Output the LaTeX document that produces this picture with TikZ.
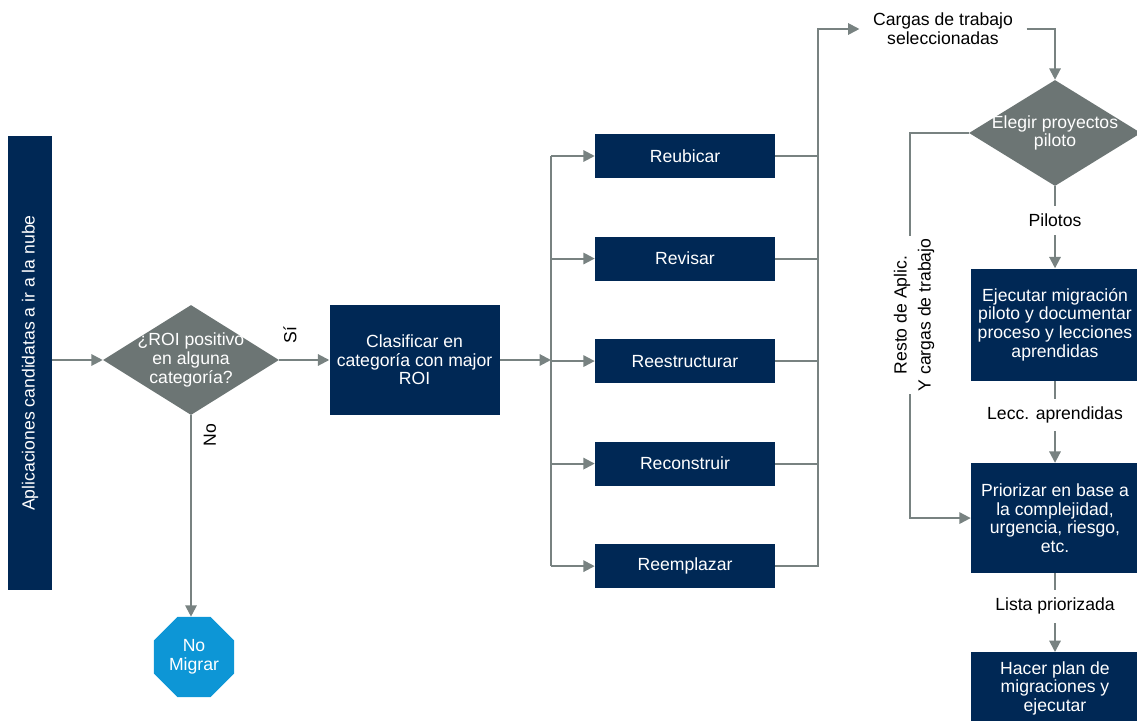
\documentclass[tikz,border=0pt]{standalone}
\usepackage{fontspec}
\setmainfont{Liberation Sans}
\usetikzlibrary{shapes.geometric,arrows.meta,positioning}
\definecolor{navy}{HTML}{002855}
\definecolor{slate}{HTML}{6C7574}
\definecolor{wire}{HTML}{788281}
\definecolor{stopblue}{HTML}{0D96D6}
\tikzset{every node/.style={font=\fontsize{13.2}{14}\selectfont,align=center},
         task node/.style={rectangle,fill=navy,text=white,inner sep=1pt},
         cat node/.style={task node,minimum width=135pt,minimum height=33pt},
         side node/.style={task node,minimum width=126pt},
         decision node/.style={diamond,fill=slate,text=white,inner sep=-12pt},
         stop node/.style={regular polygon,regular polygon sides=8,fill=stopblue,text=white,minimum size=65pt,inner sep=0pt},
         edge label/.style={rectangle,fill=white,inner xsep=2pt,inner ysep=6pt},
         flow/.style={draw=wire,line width=1.5pt}
}

\begin{document}
\begin{tikzpicture}[>={Triangle[length=8.5pt,width=8.5pt]},
x=0.75pt, y=0.75pt,
node distance=61.5pt]
\useasboundingbox (0,0) rectangle (1137,-720);

% left part
\node [task node, rotate=90, minimum width=340.5pt, minimum height=33pt] (apps) at (30,-363)
    {Aplicaciones candidatas a ir a la nube};
\node [decision node, minimum width=132pt, minimum height=82.5pt] (roi) at (191,-360)
    {¿ROI positivo\\en alguna\\categoría?};
\node [task node, minimum width=127.5pt, minimum height=83pt, right=37.5pt of roi] (clasif)
    {Clasificar en\\categoría con major\\ROI};
\node [stop node] (nomig) at (194,-657) {No\\Migrar};
\node [rotate=90] (si) at (290,-335) {Sí};
\node [rotate=90] (no) at (210,-435) {No};

% categories
\node [cat node] (reubicar) at (685,-156) {Reubicar};
\node [cat node, below=43.5pt of reubicar] (revisar) {Revisar};
\node [cat node, below=43.5pt of revisar] (reestructurar) {Reestructurar};
\node [cat node, below=43.5pt of reestructurar] (reconstruir) {Reconstruir};
\node [cat node, below=43.5pt of reconstruir] (reemplazar) {Reemplazar};

% right column
\node (cargas) [inner xsep=10pt] at (943,-29) {Cargas de trabajo\\seleccionadas};
\node [decision node, minimum width=129pt, minimum height=79.5pt] (pilot) at (1055,-133)
    {Elegir proyectos\\piloto};
\node [side node, minimum height=84pt, below=of pilot] (ejec)
    {Ejecutar migración\\piloto y documentar\\proceso y lecciones\\aprendidas};
\node [side node, minimum height=82.5pt, below=of ejec] (prio)
    {Priorizar en base a\\la complejidad,\\urgencia, riesgo,\\etc.};
\node [side node, minimum height=54pt, below=59pt of prio] (hacer)
    {Hacer plan de\\migraciones y\\ejecutar};

\coordinate (split) at (551,-360);
\coordinate (merge) at (818,-29);
\coordinate (bend) at (910,0);

\draw [flow, ->] (apps.south |- roi.west) -- (roi.west);
\draw [flow, ->] (roi.east) -- (clasif.west);
\draw [flow, ->] (roi.south) -- (roi.south |- nomig.north);
\draw [flow, ->] (clasif.east) -- (split);
\draw [flow] (split |- reubicar) -- (split |- reemplazar);
\foreach \n in {reubicar, revisar, reestructurar, reconstruir, reemplazar}
    \draw [flow, ->] (split |- \n) -- (\n.west);
\foreach \n in {reubicar, revisar, reestructurar, reconstruir}
    \draw [flow] (\n.east) -- (merge |- \n);
\draw [flow, ->] (reemplazar.east) -| (merge) -- (cargas.west);
\draw [flow, ->] (cargas.east) -| (pilot.north);

\draw [flow, ->] (pilot.south) -- node [edge label, pos=0.42] (pilotos) {Pilotos} (ejec.north);
\draw [flow, ->] (ejec.south) -- node [edge label, pos=0.42] (lecc) {Lecc. aprendidas} (prio.north);
\draw [flow, ->] (prio.south) -- node [edge label, pos=0.42] (lista) {Lista priorizada} (hacer.north);
\draw [flow, ->] (pilot.west) -| (bend |- prio.west) -- (prio.west);
\node [edge label, rotate=90, inner sep=2pt] (resto) at (914,-315)
    {Resto de Aplic.\\[4pt]Y cargas de trabajo};
\end{tikzpicture}
\end{document}
